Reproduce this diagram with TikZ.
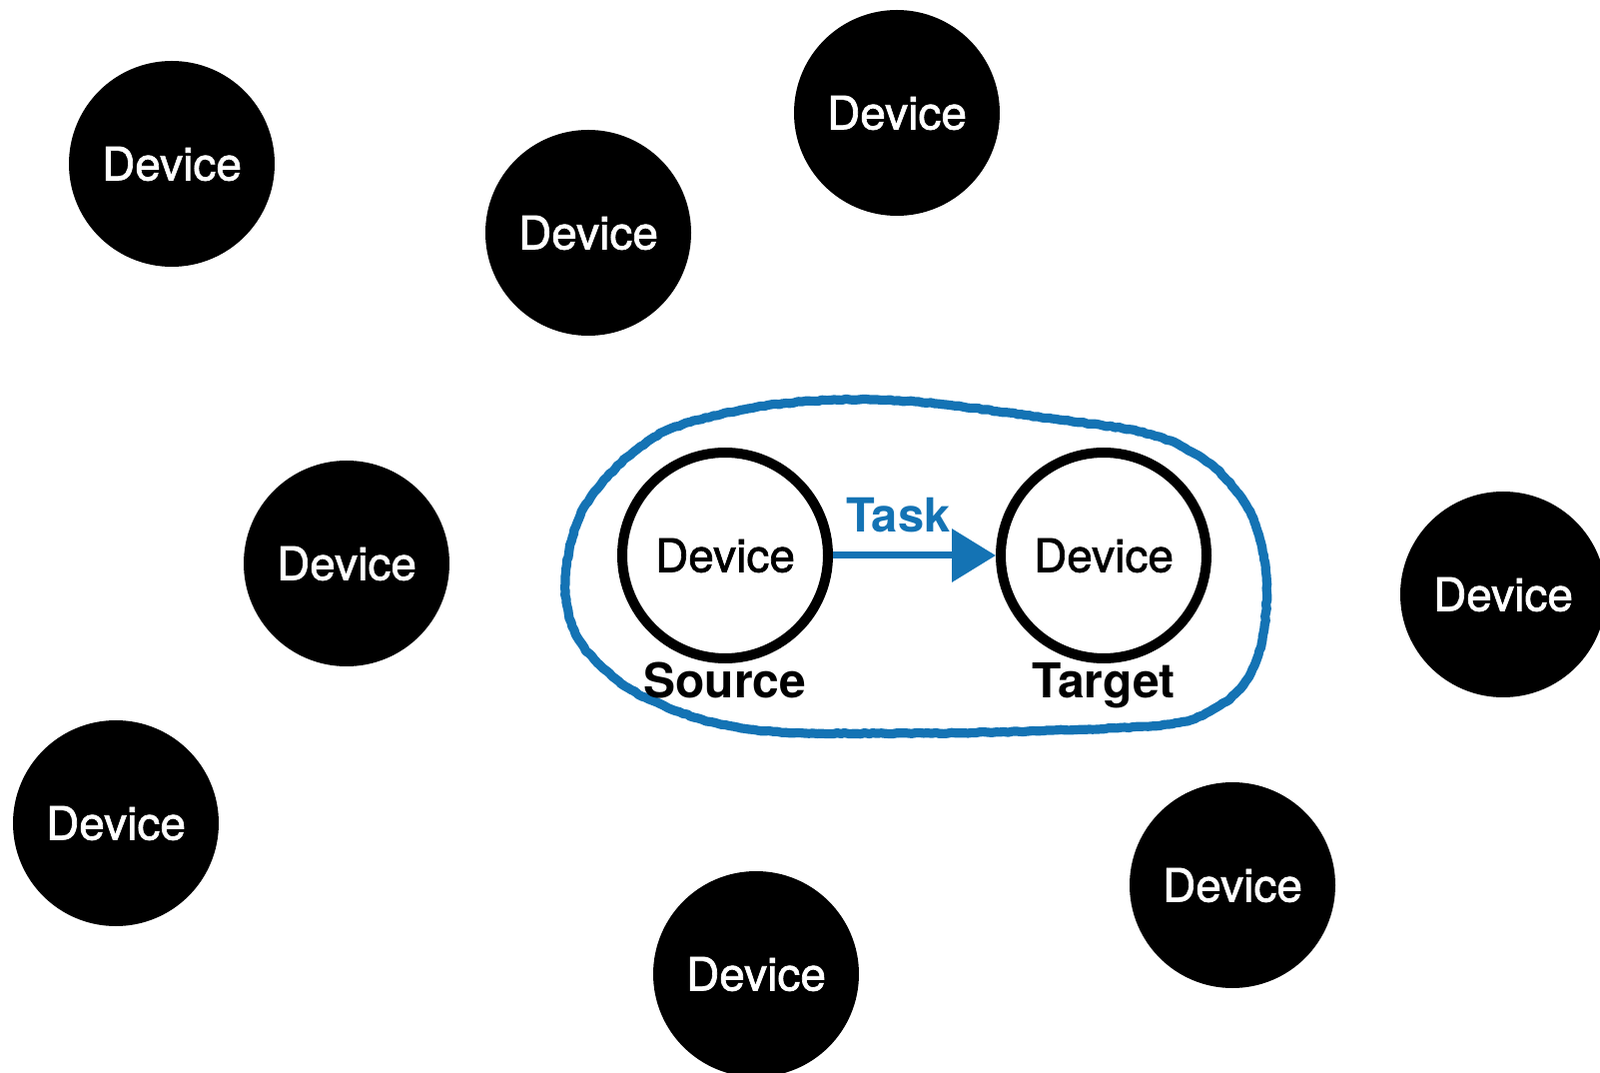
\documentclass[tikz,border=0pt]{standalone}
\usepackage{fontspec}
\setmainfont{TeX Gyre Heros}
\newfontfamily\devfont{TeX Gyre Heros}[FakeBold=1.5]
\usepackage{tikz}
\usetikzlibrary{arrows.meta}
\usetikzlibrary{positioning}
\usetikzlibrary{decorations.pathmorphing}
\definecolor{taskblue}{RGB}{20,115,180}

\begin{document}
\begin{tikzpicture}[x=0.5pt,y=-0.5pt,>={Triangle[length=22pt,width=26pt]},node distance=189.5pt]
      \tikzstyle{device}=[circle,fill=black,text=white,minimum size=103pt,inner sep=0pt,font=\devfont\fontsize{23}{27}\selectfont]
      \tikzstyle{pair}=[circle,draw=black,fill=white,line width=5pt,text=black,minimum size=103pt,inner sep=0pt,label distance=4.5pt,font=\devfont\fontsize{23}{27}\selectfont]
      \tikzstyle{role}=[font=\bfseries\fontsize{24}{28}\selectfont,text height=17.3pt,text depth=5.3pt,inner sep=0pt]
      \tikzstyle{chalk}=[draw=taskblue,line width=4.6pt,line join=round,decorate,decoration={random steps,segment length=2pt,amplitude=0.3pt}]
      \tikzstyle{chalkdust}=[draw=taskblue,line width=1.4pt,opacity=0.6,line join=round,decorate,decoration={random steps,segment length=1.2pt,amplitude=1.6pt}]

      \useasboundingbox (0,0) rectangle (1602,1074);

      % the group round source and target
      \def\grouppts{(566,577) (578,523) (600,487) (635,452) (683,425) (783,404) (900,401) (1053,419) (1153,435) (1208,462) (1238,492) (1257,525) (1268,577) (1264,640) (1247,682) (1218,708) (1170,725) (1053,731) (910,734) (750,730) (650,700) (595,660) (572,623)}
      \draw[chalk] plot[smooth cycle,tension=0.6] coordinates {\grouppts};
      \draw[chalkdust] plot[smooth cycle,tension=0.6] coordinates {\grouppts};

      \node[device]		(D1) at (172,164) {Device};
      \node[device]		(D2) at (589,233) {Device};
      \node[device]		(D3) at (898,113) {Device};
      \node[device]		(D4) at (347,564) {Device};
      \node[device]		(D5) at (116,824) {Device};
      \node[device]		(D6) at (757,975) {Device};
      \node[device]		(D7) at (1234,886) {Device};
      \node[device]		(D8) at (1505,595) {Device};

      \node[label = {[role]below:Source},pair]		(src) at (726,556) {Device};
      \node[label = {[role]below:Target},pair]		(tgt) [right of = src] {Device};

      \path
	(src) edge	[->,draw=taskblue,line width=3.5pt]	node[above=10pt,xshift=-8pt,inner sep=0pt,text=taskblue,font=\bfseries\fontsize{23.5}{27}\selectfont] (task) {Task} (tgt);
  \end{tikzpicture}
\end{document}
